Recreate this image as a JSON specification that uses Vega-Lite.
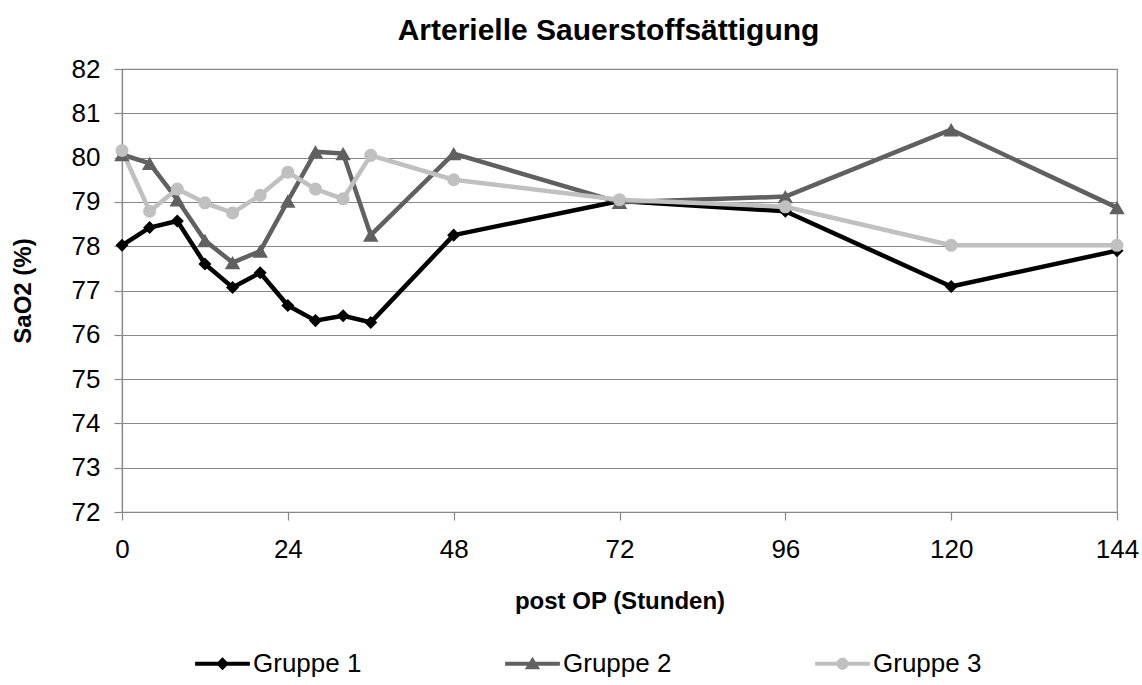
{
  "$schema": "https://vega.github.io/schema/vega-lite/v6.json",
  "width": 995,
  "height": 443,
  "autosize": {"type": "none"},
  "padding": {"left": 122, "top": 69, "right": 25, "bottom": 173},
  "background": "white",
  "title": {
    "text": "Arterielle Sauerstoffsättigung",
    "font": "Liberation Sans",
    "fontSize": 30,
    "fontWeight": "bold",
    "color": "#000000",
    "anchor": "middle",
    "dx": -11,
    "offset": 10
  },
  "config": {
    "font": "Liberation Sans",
    "view": {"stroke": "#888888", "strokeWidth": 1.2}
  },
  "data": {
    "values": [
      {"h": 0, "g": "Gruppe 1", "v": 78.02},
      {"h": 4, "g": "Gruppe 1", "v": 78.42},
      {"h": 8, "g": "Gruppe 1", "v": 78.57},
      {"h": 12, "g": "Gruppe 1", "v": 77.6},
      {"h": 16, "g": "Gruppe 1", "v": 77.07},
      {"h": 20, "g": "Gruppe 1", "v": 77.4},
      {"h": 24, "g": "Gruppe 1", "v": 76.66},
      {"h": 28, "g": "Gruppe 1", "v": 76.32},
      {"h": 32, "g": "Gruppe 1", "v": 76.43},
      {"h": 36, "g": "Gruppe 1", "v": 76.28},
      {"h": 48, "g": "Gruppe 1", "v": 78.25},
      {"h": 72, "g": "Gruppe 1", "v": 79.02},
      {"h": 96, "g": "Gruppe 1", "v": 78.79},
      {"h": 120, "g": "Gruppe 1", "v": 77.09},
      {"h": 144, "g": "Gruppe 1", "v": 77.9},
      {"h": 0, "g": "Gruppe 2", "v": 80.07},
      {"h": 4, "g": "Gruppe 2", "v": 79.87},
      {"h": 8, "g": "Gruppe 2", "v": 79.05},
      {"h": 12, "g": "Gruppe 2", "v": 78.13},
      {"h": 16, "g": "Gruppe 2", "v": 77.63},
      {"h": 20, "g": "Gruppe 2", "v": 77.89},
      {"h": 24, "g": "Gruppe 2", "v": 79.02},
      {"h": 28, "g": "Gruppe 2", "v": 80.13},
      {"h": 32, "g": "Gruppe 2", "v": 80.09},
      {"h": 36, "g": "Gruppe 2", "v": 78.25},
      {"h": 48, "g": "Gruppe 2", "v": 80.09},
      {"h": 72, "g": "Gruppe 2", "v": 78.99},
      {"h": 96, "g": "Gruppe 2", "v": 79.12},
      {"h": 120, "g": "Gruppe 2", "v": 80.63},
      {"h": 144, "g": "Gruppe 2", "v": 78.87},
      {"h": 0, "g": "Gruppe 3", "v": 80.16},
      {"h": 4, "g": "Gruppe 3", "v": 78.79},
      {"h": 8, "g": "Gruppe 3", "v": 79.29},
      {"h": 12, "g": "Gruppe 3", "v": 78.98},
      {"h": 16, "g": "Gruppe 3", "v": 78.75},
      {"h": 20, "g": "Gruppe 3", "v": 79.15},
      {"h": 24, "g": "Gruppe 3", "v": 79.67},
      {"h": 28, "g": "Gruppe 3", "v": 79.29},
      {"h": 32, "g": "Gruppe 3", "v": 79.07},
      {"h": 36, "g": "Gruppe 3", "v": 80.05},
      {"h": 48, "g": "Gruppe 3", "v": 79.5},
      {"h": 72, "g": "Gruppe 3", "v": 79.05},
      {"h": 96, "g": "Gruppe 3", "v": 78.89},
      {"h": 120, "g": "Gruppe 3", "v": 78.02},
      {"h": 144, "g": "Gruppe 3", "v": 78.02}
    ]
  },
  "encoding": {
    "x": {
      "field": "h",
      "type": "quantitative",
      "scale": {"domain": [0, 144], "nice": false, "zero": false},
      "axis": {
        "title": "post OP (Stunden)",
        "values": [0, 24, 48, 72, 96, 120, 144],
        "grid": false,
        "labelFlush": false,
        "labelOverlap": false,
        "domainColor": "#888888",
        "domainWidth": 1.2,
        "tickColor": "#888888",
        "tickSize": 8,
        "tickWidth": 1.2,
        "labelFont": "Liberation Sans",
        "labelFontSize": 26,
        "labelColor": "#000000",
        "labelPadding": 16,
        "titleFont": "Liberation Sans",
        "titleFontSize": 24,
        "titleFontWeight": "bold",
        "titleColor": "#000000",
        "titlePadding": 27
      }
    },
    "y": {
      "field": "v",
      "type": "quantitative",
      "scale": {"domain": [72, 82], "nice": false, "zero": false},
      "axis": {
        "title": "SaO2 (%)",
        "values": [72, 73, 74, 75, 76, 77, 78, 79, 80, 81, 82],
        "grid": true,
        "labelFlush": false,
        "gridColor": "#888888",
        "gridWidth": 1.2,
        "domainColor": "#888888",
        "domainWidth": 1.2,
        "tickColor": "#888888",
        "tickSize": 8,
        "tickWidth": 1.2,
        "labelFont": "Liberation Sans",
        "labelFontSize": 26,
        "labelColor": "#000000",
        "labelPadding": 14,
        "titleFont": "Liberation Sans",
        "titleFontSize": 24,
        "titleFontWeight": "bold",
        "titleColor": "#000000",
        "titlePadding": 36
      }
    },
    "color": {
      "field": "g",
      "type": "nominal",
      "scale": {"domain": ["Gruppe 1", "Gruppe 2", "Gruppe 3"], "range": ["#000000", "#606060", "#c0c0c0"]},
      "legend": {
        "title": null,
        "orient": "none",
        "direction": "horizontal",
        "legendX": 73,
        "legendY": 567,
        "padding": 0,
        "symbolSize": 3000,
        "labelOffset": 3,
        "columnPadding": 143,
        "labelFont": "Liberation Sans",
        "labelFontSize": 26,
        "labelColor": "#000000",
        "encode": {
          "symbols": {
            "update": {
              "shape": {"signal": "datum.value === 'Gruppe 1' ? 'M-1,-0.075H1V0.075H-1Z M0,-0.24L0.24,0L0,0.24L-0.24,0Z' : datum.value === 'Gruppe 2' ? 'M-1,-0.075H1V0.075H-1Z M0,-0.26L0.28,0.2L-0.28,0.2Z' : 'M-1,-0.075H1V0.075H-1Z M-0.22,0A0.22,0.22 0 1,1 0.22,0A0.22,0.22 0 1,1 -0.22,0Z'"},
              "size": {"value": 3000},
              "fill": {"signal": "scale('color', datum.value)"},
              "fillOpacity": {"value": 1},
              "stroke": {"value": "transparent"},
              "strokeWidth": {"value": 0},
              "strokeDash": {"value": []},
              "opacity": {"value": 1}
            }
          }
        }
      }
    }
  },
  "layer": [
    {
      "mark": {"type": "line", "strokeWidth": 4.5, "strokeJoin": "round"}
    },
    {
      "transform": [{"filter": "datum.g === 'Gruppe 1'"}],
      "mark": {"type": "point", "filled": true, "opacity": 1, "shape": "diamond", "size": 170}
    },
    {
      "transform": [{"filter": "datum.g === 'Gruppe 2'"}],
      "mark": {"type": "point", "filled": true, "opacity": 1, "shape": "triangle-up", "size": 240}
    },
    {
      "transform": [{"filter": "datum.g === 'Gruppe 3'"}],
      "mark": {"type": "point", "filled": true, "opacity": 1, "shape": "circle", "size": 170}
    }
  ]
}
